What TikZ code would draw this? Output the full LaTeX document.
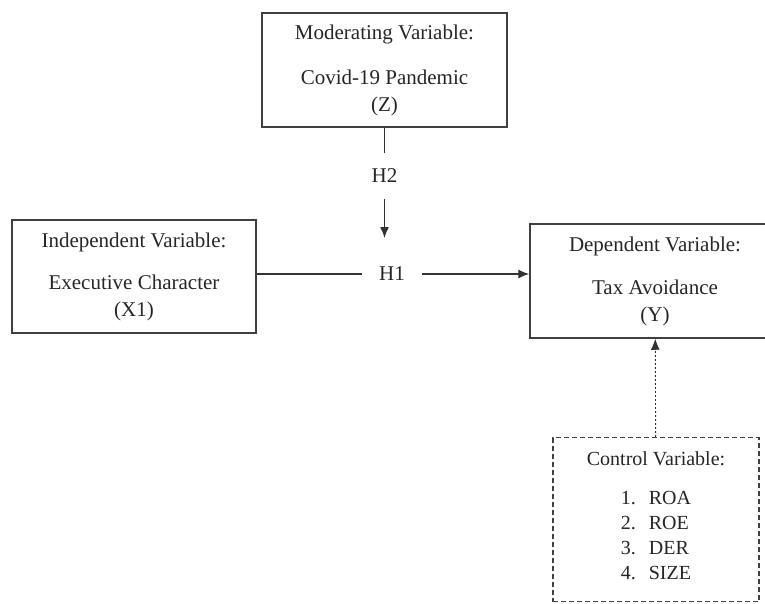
\documentclass[tikz,border=0pt]{standalone}
\usepackage{fontspec}
\setmainfont{Liberation Serif}
\usepackage{xcolor}
\usepackage{tikz}
\usetikzlibrary{arrows.meta, positioning, calc}

\begin{document}
\begin{tikzpicture}[
  x=1pt, y=-1pt,
  box/.style={draw=black!75, line width=1.5pt, align=center, inner sep=0pt,
              font=\fontsize{21}{27}\selectfont, text=black!85},
  hyp/.style={font=\fontsize{21}{27}\selectfont, text=black!85, inner sep=0pt,
              minimum width=60pt, minimum height=46pt},
  arr/.style={-{Latex[length=11pt, width=9pt]}, line width=1.3pt, black!80},
  lin/.style={line width=1.3pt, black!80}
]
  \clip (0,0) rectangle (765,604);

  \node[box, minimum width=245pt, minimum height=114pt] (mod) at (384.5,70)
    {Moderating Variable:\\[18pt] Covid-19 Pandemic\\ (Z)};
  \node[box, minimum width=244pt, minimum height=113pt] (indep) at (134,276.5)
    {Independent Variable:\\[15pt] Executive Character\\ (X1)};
  \node[box, minimum width=250pt, minimum height=114pt] (dep) at (655,281)
    {Dependent Variable:\\[16pt] Tax Avoidance\\ (Y)};
  \node[box, dashed, dash pattern=on 5pt off 3pt, minimum width=206pt,
        minimum height=164pt, font=\fontsize{20}{25}\selectfont] (ctrl) at (656,519.5)
    {Control Variable:\\[20pt]
     \begin{tabular}{@{}l@{\hspace{13pt}}l@{}}
       1. & ROA\\ 2. & ROE\\ 3. & DER\\ 4. & SIZE
     \end{tabular}};

  \node[hyp] (h2) at (384.5,176) {H2};
  \node[hyp] (h1) at (392,274) {H1};
  \coordinate (h2end) at (384.5,238);

  \draw[lin] (mod) -- (h2);
  \draw[arr] (h2) -- (h2end);
  \draw[lin] (h1 -| indep.east) -- (h1);
  \draw[arr] (h1) -- (h1 -| dep.west);
  \draw[arr, line width=0.9pt, dash pattern=on 2pt off 2pt] (ctrl) -- (dep);
\end{tikzpicture}
\end{document}
